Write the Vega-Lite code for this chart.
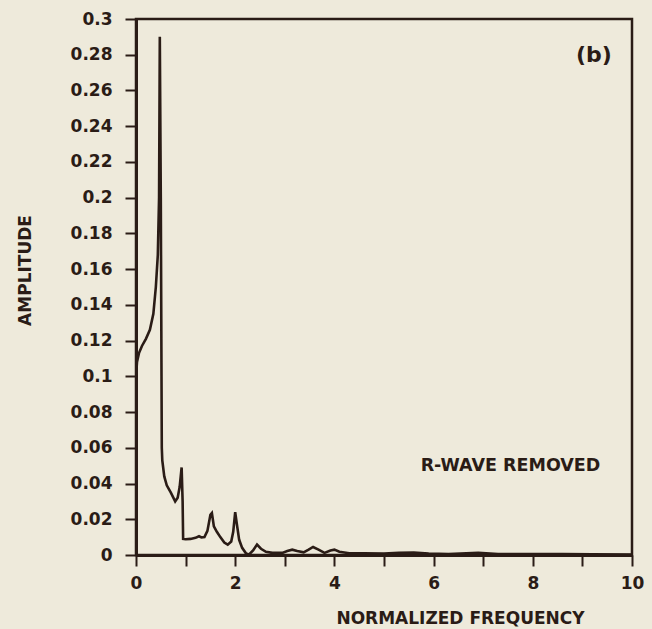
{
  "$schema": "https://vega.github.io/schema/vega-lite/v6.json",
  "width": 496,
  "height": 536,
  "autosize": {"type": "none"},
  "padding": {"left": 136, "top": 19, "right": 20, "bottom": 74},
  "background": "#eeeadb",
  "config": {
    "font": "DejaVu Sans",
    "view": {"stroke": "#2a1c16", "strokeWidth": 2.5, "fill": "#eeeadb"},
    "axis": {
      "domainColor": "#2a1c16",
      "domainWidth": 3,
      "tickColor": "#2a1c16",
      "tickWidth": 2,
      "tickSize": 11,
      "grid": false,
      "labelFlush": false,
      "labelFont": "DejaVu Sans",
      "labelFontWeight": "bold",
      "labelFontSize": 17,
      "labelColor": "#2a1c16",
      "titleFont": "DejaVu Sans",
      "titleFontWeight": "bold",
      "titleFontSize": 17,
      "titleColor": "#2a1c16"
    }
  },
  "datasets": {
    "spectrum": [
      {"f": 0.0, "a": 0.100},
      {"f": 0.02, "a": 0.108},
      {"f": 0.06, "a": 0.113},
      {"f": 0.12, "a": 0.117},
      {"f": 0.20, "a": 0.121},
      {"f": 0.28, "a": 0.126},
      {"f": 0.35, "a": 0.135},
      {"f": 0.40, "a": 0.150},
      {"f": 0.44, "a": 0.168},
      {"f": 0.465, "a": 0.200},
      {"f": 0.48, "a": 0.290},
      {"f": 0.50, "a": 0.200},
      {"f": 0.52, "a": 0.060},
      {"f": 0.53, "a": 0.053},
      {"f": 0.57, "a": 0.044},
      {"f": 0.62, "a": 0.039},
      {"f": 0.70, "a": 0.035},
      {"f": 0.79, "a": 0.030},
      {"f": 0.84, "a": 0.032},
      {"f": 0.88, "a": 0.038},
      {"f": 0.92, "a": 0.049},
      {"f": 0.94, "a": 0.030},
      {"f": 0.95, "a": 0.009},
      {"f": 1.0, "a": 0.0088},
      {"f": 1.1, "a": 0.0090},
      {"f": 1.2, "a": 0.0096},
      {"f": 1.27, "a": 0.0105},
      {"f": 1.32, "a": 0.0098},
      {"f": 1.38, "a": 0.0100},
      {"f": 1.44, "a": 0.0135},
      {"f": 1.50, "a": 0.0225},
      {"f": 1.53, "a": 0.0235},
      {"f": 1.57, "a": 0.016},
      {"f": 1.63, "a": 0.013},
      {"f": 1.70, "a": 0.010},
      {"f": 1.78, "a": 0.0070},
      {"f": 1.85, "a": 0.0058},
      {"f": 1.92, "a": 0.0075},
      {"f": 1.96, "a": 0.0130},
      {"f": 2.00, "a": 0.0240},
      {"f": 2.03, "a": 0.018},
      {"f": 2.08, "a": 0.0085},
      {"f": 2.14, "a": 0.0040},
      {"f": 2.22, "a": 0.0008},
      {"f": 2.28, "a": 0.0003},
      {"f": 2.36, "a": 0.0025},
      {"f": 2.44, "a": 0.0058},
      {"f": 2.52, "a": 0.0035},
      {"f": 2.62, "a": 0.0018},
      {"f": 2.75, "a": 0.0012},
      {"f": 2.95, "a": 0.0012},
      {"f": 3.05, "a": 0.0022},
      {"f": 3.15, "a": 0.0030},
      {"f": 3.25, "a": 0.0022},
      {"f": 3.38, "a": 0.0015},
      {"f": 3.48, "a": 0.0030},
      {"f": 3.57, "a": 0.0045},
      {"f": 3.68, "a": 0.0030},
      {"f": 3.8, "a": 0.0012},
      {"f": 3.92, "a": 0.0025},
      {"f": 4.0, "a": 0.0030},
      {"f": 4.1, "a": 0.0018},
      {"f": 4.3, "a": 0.0010},
      {"f": 4.6, "a": 0.0010},
      {"f": 5.0, "a": 0.0008},
      {"f": 5.3, "a": 0.0012},
      {"f": 5.6, "a": 0.0014},
      {"f": 5.9, "a": 0.0008},
      {"f": 6.3, "a": 0.0006},
      {"f": 6.9, "a": 0.0012},
      {"f": 7.3, "a": 0.0005},
      {"f": 8.0, "a": 0.0006},
      {"f": 8.6, "a": 0.0005},
      {"f": 9.2, "a": 0.0004},
      {"f": 10.0, "a": 0.0003}
    ],
    "notes": [
      {"f": 9.23, "a": 0.28, "text": "(b)", "size": 22},
      {"f": 7.55, "a": 0.0498, "text": "R-WAVE REMOVED", "size": 17.5}
    ]
  },
  "encoding": {
    "x": {
      "field": "f",
      "type": "quantitative",
      "scale": {"domain": [0, 10], "nice": false},
      "axis": {
        "title": "NORMALIZED FREQUENCY",
        "values": [0, 1, 2, 3, 4, 5, 6, 7, 8, 9, 10],
        "labelExpr": "datum.value % 2 == 0 ? datum.label : ''",
        "labelOverlap": false,
        "labelPadding": 9,
        "tickSize": 11,
        "titleX": 324,
        "titleY": 55,
        "titleBaseline": "top",
        "titleAnchor": "start",
        "titleAlign": "center"
      }
    },
    "y": {
      "field": "a",
      "type": "quantitative",
      "scale": {"domain": [0, 0.3], "nice": false},
      "axis": {
        "title": "AMPLITUDE",
        "values": [0, 0.02, 0.04, 0.06, 0.08, 0.1, 0.12, 0.14, 0.16, 0.18, 0.2, 0.22, 0.24, 0.26, 0.28, 0.3],
        "format": ".2~f",
        "labelOverlap": false,
        "labelBound": false,
        "labelPadding": 13,
        "tickSize": 11,
        "titleX": -111,
        "titleY": 251,
        "titleAngle": -90,
        "titleAlign": "center",
        "titleBaseline": "middle",
        "titleAnchor": "start"
      }
    }
  },
  "layer": [
    {
      "data": {"name": "spectrum"},
      "mark": {"type": "line", "color": "#2a1c16", "strokeWidth": 2.6, "clip": true}
    },
    {
      "data": {"name": "notes"},
      "mark": {"type": "text", "color": "#2a1c16", "fontWeight": "bold", "font": "DejaVu Sans", "align": "center", "baseline": "middle"},
      "encoding": {
        "text": {"field": "text"},
        "size": {"field": "size", "type": "quantitative", "scale": null}
      }
    }
  ]
}
